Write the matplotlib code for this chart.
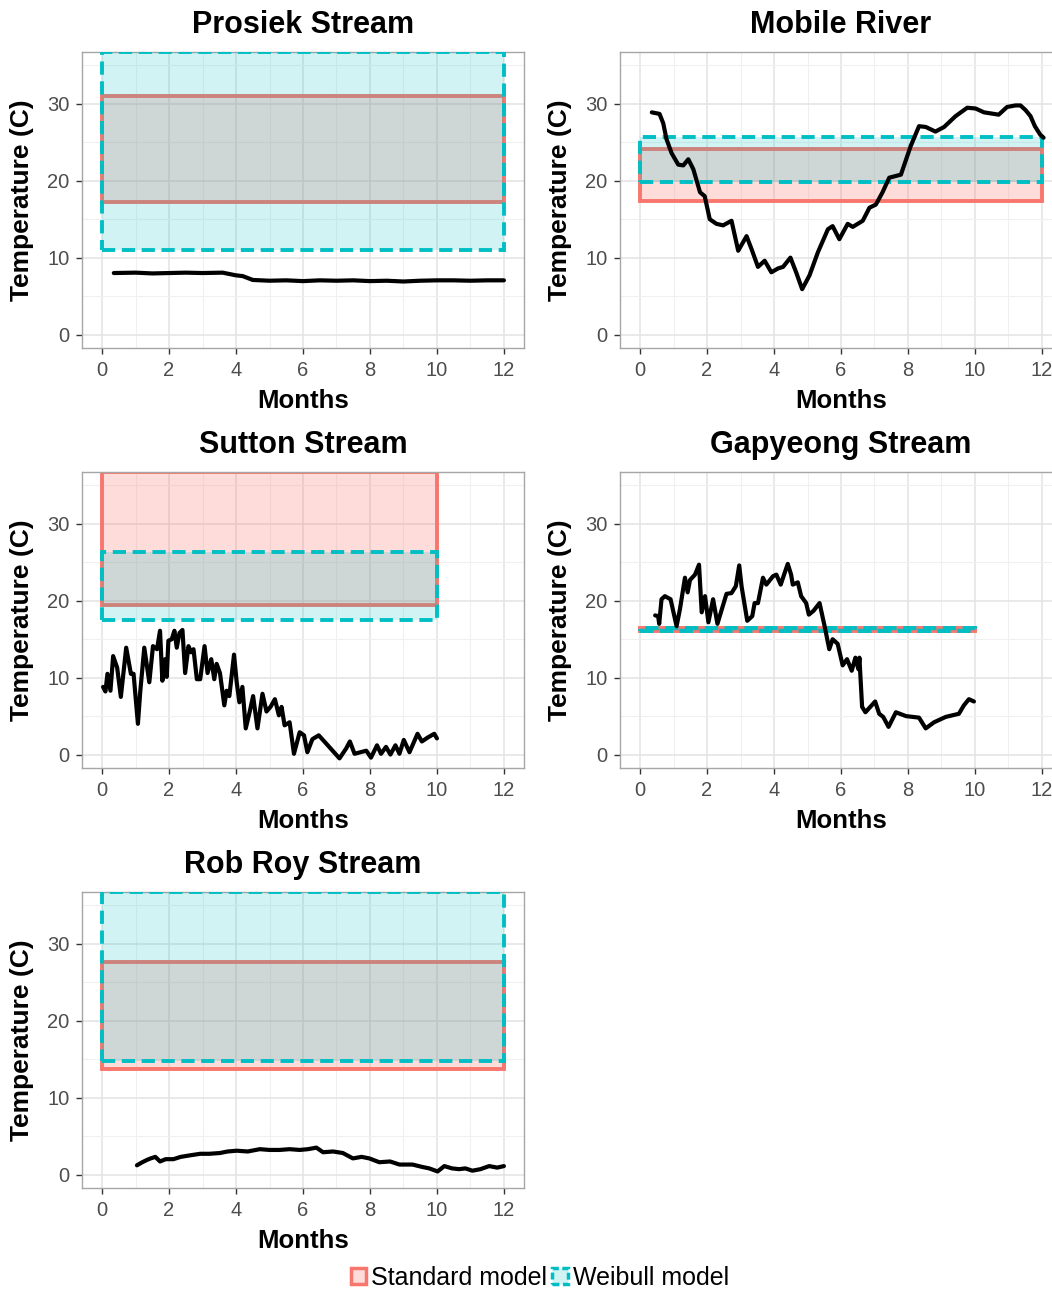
import matplotlib.pyplot as plt
from matplotlib.patches import Rectangle, Patch
from matplotlib.ticker import MultipleLocator

plt.rcParams['font.family'] = ['Liberation Sans', 'DejaVu Sans']

red = '#F8766D'
cyan = '#00BFC4'

titles = ["Prosiek Stream", "Mobile River", "Sutton Stream", "Gapyeong Stream", "Rob Roy Stream"]

# model ranges per stream (months 0..x_end), values above the axis top are clipped
std_lo = [17.3, 17.4, 19.4, 16.05, 13.7]
std_hi = [31.0, 24.1, 36.75, 16.45, 27.7]
wei_lo = [11.0, 19.8, 17.5, 16.05, 14.8]
wei_hi = [36.75, 25.7, 26.3, 16.45, 36.75]
x_end = [12, 12, 10, 10, 12]

# observed temperatures
prosiek_m = [0.35, 1.0, 1.5, 2.0, 2.5, 3.0, 3.6, 4.0, 4.2, 4.5, 5.0, 5.5, 6.0, 6.5, 7.0, 7.5,
             8.0, 8.5, 9.0, 9.5, 10.0, 10.5, 11.0, 11.5, 12.0]
prosiek_t = [8.0, 8.05, 7.95, 8.0, 8.05, 8.0, 8.05, 7.7, 7.6, 7.1, 7.0, 7.05, 6.95, 7.05, 7.0, 7.05,
             6.95, 7.0, 6.9, 7.0, 7.05, 7.05, 7.0, 7.05, 7.05]

mobile_m = [0.35, 0.58, 0.69, 0.79, 0.94, 1.14, 1.29, 1.44, 1.59, 1.71, 1.79, 1.93, 2.08, 2.28,
            2.48, 2.73, 2.93, 3.18, 3.33, 3.52, 3.72, 3.92, 4.12, 4.27, 4.49, 4.66, 4.84, 5.06,
            5.31, 5.61, 5.75, 5.95, 6.20, 6.35, 6.65, 6.85, 7.04, 7.24, 7.44, 7.79, 8.08, 8.33,
            8.53, 8.82, 9.08, 9.42, 9.77, 10.02, 10.27, 10.71, 10.96, 11.21, 11.36, 11.51, 11.66,
            11.79, 11.95, 12.05]
mobile_t = [28.9, 28.7, 27.5, 25.4, 23.6, 22.1, 22.0, 22.8, 21.5, 19.7, 18.5, 18.0, 15.0, 14.4,
            14.2, 14.8, 10.9, 12.8, 11.1, 8.8, 9.6, 8.1, 8.6, 8.8, 10.0, 8.1, 5.9, 7.7,
            10.7, 13.7, 14.1, 12.4, 14.4, 14.0, 14.8, 16.5, 16.9, 18.5, 20.4, 20.8, 24.5, 27.1,
            27.0, 26.4, 27.0, 28.4, 29.5, 29.4, 28.9, 28.6, 29.6, 29.8, 29.8, 29.2, 28.4,
            27.1, 26.0, 25.6]

sutton_m = [0.03, 0.10, 0.16, 0.25, 0.33, 0.45, 0.56, 0.72, 0.86, 0.94, 1.07, 1.14, 1.26, 1.41,
            1.52, 1.64, 1.73, 1.80, 1.88, 1.93, 1.98, 2.08, 2.16, 2.23, 2.31, 2.40, 2.48, 2.58,
            2.66, 2.73, 2.83, 2.93, 3.06, 3.15, 3.26, 3.35, 3.42, 3.52, 3.65, 3.72, 3.80, 3.94,
            4.02, 4.10, 4.19, 4.29, 4.41, 4.51, 4.64, 4.79, 4.91, 5.03, 5.16, 5.28, 5.36, 5.45,
            5.60, 5.73, 5.90, 6.03, 6.13, 6.28, 6.47, 6.74, 7.09, 7.29, 7.40, 7.54, 7.89, 8.03,
            8.21, 8.33, 8.48, 8.61, 8.76, 8.88, 9.01, 9.18, 9.42, 9.55, 9.72, 9.92, 10.0]
sutton_t = [8.8, 8.2, 10.5, 8.3, 12.8, 11.3, 7.5, 13.9, 10.5, 10.5, 4.0, 8.2, 13.9, 9.4,
            14.1, 13.7, 16.1, 9.6, 12.4, 10.1, 14.8, 15.0, 16.1, 13.9, 15.8, 16.2, 10.6, 14.1,
            13.3, 13.7, 9.8, 9.8, 14.1, 10.6, 12.4, 9.8, 11.8, 10.6, 6.4, 8.3, 7.6, 13.0,
            9.4, 6.8, 8.8, 3.4, 5.6, 7.6, 3.4, 7.9, 5.6, 6.2, 7.2, 5.1, 6.2, 3.8,
            4.2, 0.1, 2.9, 2.5, 0.3, 2.0, 2.5, 1.2, -0.5, 0.8, 1.7, 0.1, 0.5, -0.4,
            1.2, 0.1, 1.0, 0.0, 1.2, 0.1, 1.9, 0.3, 2.7, 1.7, 2.2, 2.7, 2.1]

gapyeong_m = [0.45, 0.54, 0.57, 0.64, 0.74, 0.91, 1.09, 1.19, 1.34, 1.42, 1.49, 1.64, 1.76, 1.84,
              1.94, 2.04, 2.18, 2.31, 2.58, 2.73, 2.86, 2.96, 3.03, 3.20, 3.35, 3.42, 3.52, 3.67,
              3.77, 3.97, 4.07, 4.20, 4.30, 4.41, 4.51, 4.56, 4.71, 4.81, 4.96, 5.04, 5.18, 5.36,
              5.51, 5.65, 5.75, 5.90, 6.05, 6.18, 6.32, 6.43, 6.52, 6.55, 6.63, 6.73, 7.02, 7.14,
              7.26, 7.42, 7.64, 7.94, 8.33, 8.53, 8.78, 9.13, 9.52, 9.67, 9.82, 9.97]
gapyeong_t = [18.1, 18.0, 17.0, 20.2, 20.6, 20.2, 16.7, 18.9, 23.0, 21.1, 22.7, 23.4, 24.7, 18.5,
              20.6, 17.2, 20.2, 17.0, 20.9, 21.0, 21.9, 24.6, 21.9, 17.4, 18.0, 19.7, 19.7, 23.0,
              22.1, 23.2, 23.4, 22.1, 23.4, 24.8, 23.4, 22.1, 22.4, 20.6, 19.7, 18.2, 18.7, 19.7,
              16.7, 13.7, 15.0, 14.4, 11.6, 12.4, 10.9, 12.6, 11.1, 12.6, 6.2, 5.5, 6.9, 5.3,
              4.9, 3.6, 5.5, 5.0, 4.8, 3.4, 4.2, 4.9, 5.3, 6.4, 7.2, 6.9]

robroy_m = [1.04, 1.20, 1.34, 1.45, 1.59, 1.73, 1.90, 2.13, 2.35, 2.63, 2.93, 3.20, 3.52, 3.75,
            4.02, 4.35, 4.71, 5.00, 5.30, 5.60, 5.90, 6.15, 6.40, 6.60, 6.90, 7.19, 7.49, 7.75,
            7.98, 8.28, 8.60, 8.88, 9.27, 9.55, 9.77, 10.02, 10.22, 10.45, 10.66, 10.85, 11.06,
            11.30, 11.56, 11.80, 12.0]
robroy_t = [1.2, 1.6, 1.9, 2.1, 2.3, 1.7, 2.0, 2.0, 2.3, 2.5, 2.7, 2.7, 2.8, 3.0,
            3.1, 3.0, 3.3, 3.2, 3.2, 3.3, 3.2, 3.3, 3.5, 2.9, 3.0, 2.8, 2.1, 2.3,
            2.1, 1.6, 1.7, 1.3, 1.3, 1.0, 0.8, 0.4, 1.1, 0.8, 0.7, 0.8, 0.5,
            0.7, 1.1, 0.9, 1.1]

months = [prosiek_m, mobile_m, sutton_m, gapyeong_m, robroy_m]
temps = [prosiek_t, mobile_t, sutton_t, gapyeong_t, robroy_t]

W, H = 1052, 1290
fig = plt.figure(figsize=(W / 100, H / 100), dpi=100)

# panel boxes in pixels: left, top
boxes = [(82, 52), (620, 52), (82, 472), (620, 472), (82, 892)]
pw, ph = 442, 296

for i in range(5):
    left, top = boxes[i]
    ax = fig.add_axes([left / W, 1 - (top + ph) / H, pw / W, ph / H])
    ax.set_xlim(-0.6, 12.6)
    ax.set_ylim(-1.75, 36.75)
    ax.xaxis.set_major_locator(MultipleLocator(2))
    ax.xaxis.set_minor_locator(MultipleLocator(1))
    ax.yaxis.set_major_locator(MultipleLocator(10))
    ax.yaxis.set_minor_locator(MultipleLocator(5))
    ax.grid(which='major', color='#E3E3E3', lw=1.1, zorder=0)
    ax.grid(which='minor', color='#F0F0F0', lw=0.8, zorder=0)
    ax.set_axisbelow(True)
    for s in ax.spines.values():
        s.set_color('#A6A6A6')
        s.set_linewidth(1.0)
    ax.tick_params(which='major', length=4, width=1, color='#333333', labelcolor='#4D4D4D',
                   labelsize=14.5, pad=5)
    ax.tick_params(which='minor', length=0)

    ax.add_patch(Rectangle((0, std_lo[i]), x_end[i], std_hi[i] - std_lo[i],
                           facecolor=(0.973, 0.463, 0.427, 0.25), edgecolor=red, lw=2.8, zorder=2))
    ax.add_patch(Rectangle((0, wei_lo[i]), x_end[i], wei_hi[i] - wei_lo[i],
                           facecolor=(0.0, 0.749, 0.769, 0.18), edgecolor=cyan, lw=2.8,
                           linestyle=(0, (3.4, 1.7)), zorder=3))
    ax.plot(months[i], temps[i], color='black', lw=3.0, solid_joinstyle='round',
            solid_capstyle='round', zorder=4)

    cx = (left + pw / 2) / W
    fig.text(cx, 1 - (top - 27) / H, titles[i], ha='center', va='center',
             fontsize=22, fontweight='bold')
    fig.text(cx, 1 - (top + ph + 53) / H, "Months", ha='center', va='center',
             fontsize=18.5, fontweight='bold')
    fig.text((left - 60) / W, 1 - (top + ph / 2) / H, "Temperature (C)", ha='center',
             va='center', rotation=90, fontsize=19, fontweight='bold')

handles = [Patch(facecolor=(0.973, 0.463, 0.427, 0.25), edgecolor=red, lw=2.5),
           Patch(facecolor=(0.0, 0.749, 0.769, 0.18), edgecolor=cyan, lw=2.5, linestyle=(0, (2, 1)))]
fig.legend(handles, ["Standard model", "Weibull model"], loc='center',
           bbox_to_anchor=(540 / W, 1 - 1278 / H), ncol=2, frameon=False, fontsize=18,
           handlelength=0.62, handleheight=0.62, handletextpad=0.2, columnspacing=0.2)

fig.savefig('out.png', dpi=100)
